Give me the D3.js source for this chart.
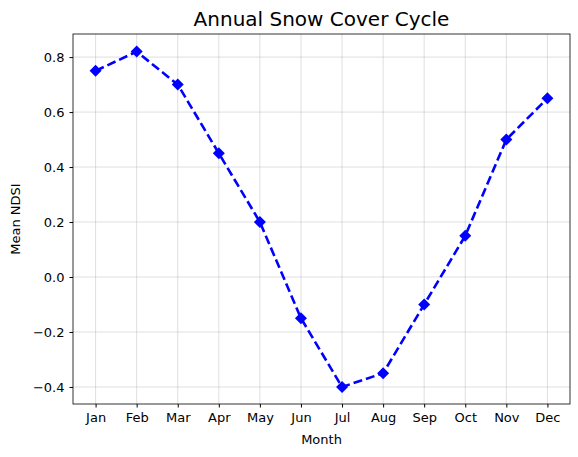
<!DOCTYPE html>
<html><head><meta charset="utf-8">
<script src="https://cdn.jsdelivr.net/npm/d3@7"></script>
<style>body{margin:0;background:#fff;font-family:"DejaVu Sans",sans-serif}</style>
</head><body><div id="chart"></div>
<script>
var months = ["Jan","Feb","Mar","Apr","May","Jun","Jul","Aug","Sep","Oct","Nov","Dec"];
var ndsi = [0.75,0.82,0.70,0.45,0.20,-0.15,-0.40,-0.35,-0.10,0.15,0.50,0.65];
var yTicks = [-0.4,-0.2,0.0,0.2,0.4,0.6,0.8];

var svgWidth = 578, svgHeight = 457;
var margin = {top: 34, right: 8, bottom: 53, left: 73};
var width = svgWidth - margin.left - margin.right;
var height = svgHeight - margin.top - margin.bottom;

var svg = d3.select("#chart").append("svg")
  .attr("width", svgWidth).attr("height", svgHeight);
var g = svg.append("g").attr("transform", `translate(${margin.left},${margin.top})`);

var x = d3.scaleLinear().domain([-0.55, 11.55]).range([0, width]);
var y = d3.scaleLinear().domain([-0.462, 0.884]).range([height, 0]);

// grid
g.selectAll(".gx").data(months).enter().append("line")
  .attr("x1", (d,i) => x(i)).attr("x2", (d,i) => x(i))
  .attr("y1", 0).attr("y2", height)
  .attr("stroke", "#b0b0b0").attr("stroke-opacity", 0.5).attr("stroke-width", 0.8);
g.selectAll(".gy").data(yTicks).enter().append("line")
  .attr("x1", 0).attr("x2", width)
  .attr("y1", d => y(d)).attr("y2", d => y(d))
  .attr("stroke", "#b0b0b0").attr("stroke-opacity", 0.5).attr("stroke-width", 0.8);

var xAxis = d3.axisBottom(x).tickValues(d3.range(12)).tickFormat(i => months[i]).tickSizeOuter(0).tickSize(3.5).tickPadding(5);
var yAxis = d3.axisLeft(y).tickValues(yTicks).tickFormat(d3.format(".1f")).tickSizeOuter(0).tickSize(3.5).tickPadding(5);
g.append("g").attr("transform", `translate(0,${height})`).call(xAxis);
g.append("g").call(yAxis);
g.selectAll(".tick text").attr("font-size", 13).attr("font-family", "DejaVu Sans").attr("fill", "#000");
g.selectAll(".domain").remove();
g.append("rect").attr("width", width).attr("height", height)
  .attr("fill", "none").attr("stroke", "#000").attr("stroke-width", 0.8);

var line = d3.line().x((d,i) => x(i)).y(d => y(d));
g.append("path").datum(ndsi).attr("d", line)
  .attr("fill", "none").attr("stroke", "blue").attr("stroke-width", 2.6)
  .attr("stroke-dasharray", "9,4");

g.selectAll(".pt").data(ndsi).enter().append("path")
  .attr("transform", (d,i) => `translate(${x(i)},${y(d)})`)
  .attr("d", "M0,-6L6,0L0,6L-6,0Z").attr("fill", "blue");

svg.append("text").attr("x", margin.left + width/2).attr("y", 26)
  .attr("text-anchor", "middle").attr("font-size", 20).text("Annual Snow Cover Cycle");
svg.append("text").attr("x", margin.left + width/2).attr("y", 444)
  .attr("text-anchor", "middle").attr("font-size", 13).text("Month");
svg.append("text").attr("transform", `translate(20,${margin.top + height/2}) rotate(-90)`)
  .attr("text-anchor", "middle").attr("font-size", 13).text("Mean NDSI");
</script></body></html>
